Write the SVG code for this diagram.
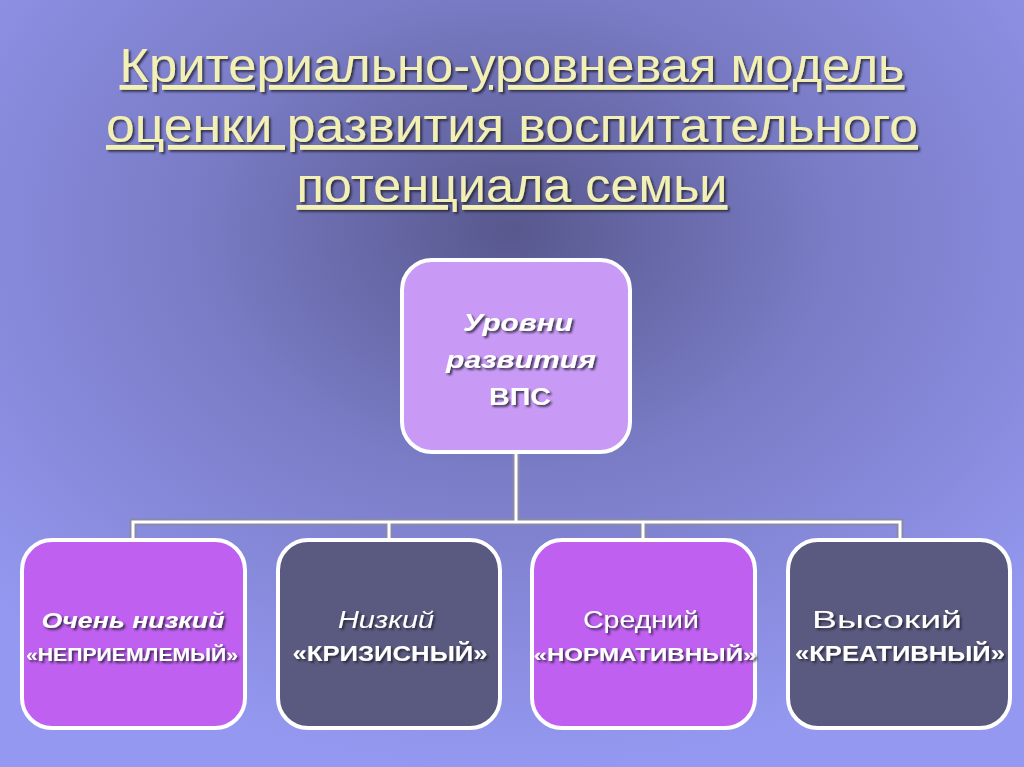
<svg xmlns="http://www.w3.org/2000/svg" width="1024" height="767" viewBox="0 0 1024 767">
<defs>
<radialGradient id="bg" cx="0.5" cy="0.3" r="0.7">
<stop offset="0" stop-color="#58588e"/>
<stop offset="0.45" stop-color="#7a7cc6"/>
<stop offset="1" stop-color="#9498f0"/>
</radialGradient>
<filter id="sh" x="-10%" y="-10%" width="120%" height="130%"><feDropShadow dx="2" dy="2" stdDeviation="1" flood-color="#202030" flood-opacity="0.8"/></filter>
</defs>
<style>
.title{font-family:"Liberation Sans",Arial,sans-serif;font-size:48px;fill:#f2f0b4;text-anchor:middle;text-decoration:underline;filter:url(#sh)}
.box{stroke:#ffffff;stroke-width:4}
.t{font-family:"Liberation Sans",Arial,sans-serif;fill:#ffffff;text-anchor:middle;filter:url(#sh)}
.con{fill:none}
</style>
<rect width="1024" height="767" fill="url(#bg)"/>
<g id="title">
<text class="title" x="512" y="82" textLength="785" lengthAdjust="spacingAndGlyphs">Критериально-уровневая модель</text>
<text class="title" x="512" y="142" textLength="812" lengthAdjust="spacingAndGlyphs">оценки развития воспитательного</text>
<text class="title" x="512" y="202" textLength="431" lengthAdjust="spacingAndGlyphs">потенциала семьи</text>
</g>
<g id="connectors">
<path class="con" d="M516 452V522M133 540V522H900V540M389 522V540M643 522V540" stroke="#8a8aa8" stroke-width="7"/>
<path class="con" d="M516 452V522M133 540V522H900V540M389 522V540M643 522V540" stroke="#ffffff" stroke-width="3"/>
</g>
<g id="root">
<rect class="box" x="402" y="260" width="228" height="192" rx="30" fill="#c89af5"/>
<text class="t" x="518" y="331" font-size="24" font-weight="bold" font-style="italic" textLength="110" lengthAdjust="spacingAndGlyphs">Уровни</text>
<text class="t" x="521" y="368" font-size="24" font-weight="bold" font-style="italic" textLength="150" lengthAdjust="spacingAndGlyphs">развития</text>
<text class="t" x="520" y="405" font-size="24" font-weight="bold" textLength="62" lengthAdjust="spacingAndGlyphs">ВПС</text>
</g>
<g id="n1">
<rect class="box" x="22" y="540" width="223" height="188" rx="30" fill="#c060f0"/>
<text class="t" x="133" y="628" font-size="22" font-weight="bold" font-style="italic" textLength="183" lengthAdjust="spacingAndGlyphs">Очень низкий</text>
<text class="t" x="132" y="661" font-size="18" font-weight="bold" textLength="212" lengthAdjust="spacingAndGlyphs">«НЕПРИЕМЛЕМЫЙ»</text>
</g>
<g id="n2">
<rect class="box" x="278" y="540" width="222" height="188" rx="30" fill="#5a5a80"/>
<text class="t" x="386" y="628" font-size="23" font-style="italic" textLength="96" lengthAdjust="spacingAndGlyphs">Низкий</text>
<text class="t" x="390" y="661" font-size="22" font-weight="bold" textLength="195" lengthAdjust="spacingAndGlyphs">«КРИЗИСНЫЙ»</text>
</g>
<g id="n3">
<rect class="box" x="532" y="540" width="223" height="188" rx="30" fill="#c060f0"/>
<text class="t" x="641" y="628" font-size="23" textLength="116" lengthAdjust="spacingAndGlyphs">Средний</text>
<text class="t" x="645" y="661" font-size="19" font-weight="bold" textLength="223" lengthAdjust="spacingAndGlyphs">«НОРМАТИВНЫЙ»</text>
</g>
<g id="n4">
<rect class="box" x="788" y="540" width="222" height="188" rx="30" fill="#5a5a80"/>
<text class="t" x="887" y="628" font-size="23" textLength="150" lengthAdjust="spacingAndGlyphs">Высокий</text>
<text class="t" x="900" y="661" font-size="22" font-weight="bold" textLength="210" lengthAdjust="spacingAndGlyphs">«КРЕАТИВНЫЙ»</text>
</g>
</svg>
